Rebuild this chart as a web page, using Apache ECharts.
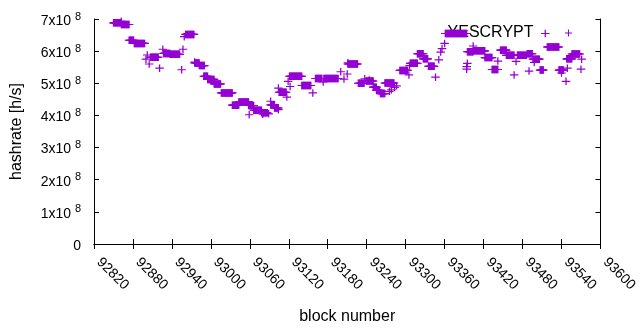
<!DOCTYPE html>
<html><head><meta charset="utf-8">
<script src="https://cdn.jsdelivr.net/npm/echarts@6/dist/echarts.min.js"></script>
<style>html,body{margin:0;padding:0;background:#fff}#c{width:640px;height:330px}</style>
</head><body><div id="c"></div>
<script>
// ---- data (hashrate in units of 10^8 h/s) ----
const seriesName = 'YESCRYPT';
const xTitle = 'block number';
const yTitle = 'hashrate [h/s]';
const xMin = 92820, xMax = 93600, xStep = 60;
const yMin = 0, yMax = 7, yStep = 1;
const yExponent = '8';

// runs of consecutive blocks sharing the same hashrate estimate
const runStart = [92850,92862,92874,92882,92907,92927,92937,92961,92975,92982,92989,92995,93005,93016,93033,93043,93058,93066,93078,93092,93098,93105,93121,93140,93161,93174,93211,93227,93239,93250,93255,93261,93268,93291,93307,93318,93327,93335,93361,93395,93404,93422,93433,93446,93455,93472,93487,93496,93507,93518,93536,93548,93556];
const runEnd   = [92861,92874,92881,92898,92919,92937,92952,92974,92982,92990,92995,93005,93015,93033,93043,93058,93066,93078,93087,93098,93104,93116,93140,93154,93171,93196,93226,93236,93250,93255,93260,93268,93282,93303,93318,93327,93334,93344,93394,93404,93422,93433,93442,93455,93467,93486,93495,93506,93512,93536,93543,93556,93568];
const runHashrate = [6.88,6.83,6.34,6.24,5.81,5.93,5.90,6.52,5.63,5.55,5.22,5.12,4.98,4.70,4.32,4.42,4.31,4.16,4.08,4.33,4.23,4.72,5.22,4.93,5.15,5.15,5.60,5.00,5.07,4.88,4.78,4.68,5.01,5.40,5.62,5.92,5.76,5.53,6.55,5.98,6.01,5.80,5.43,6.03,5.87,5.87,5.92,5.75,5.41,6.13,5.41,5.76,5.91];

// isolated blocks
const singleBlock = [92862,92900,92902,92905,92921,92926,92955,92957,92959,92975,93059,93080,93089,93092,93104,93104,93117,93119,93122,93157,93173,93200,93205,93210,93211,93237,93244,93275,93278,93283,93286,93305,93306,93346,93351,93354,93356,93360,93394,93395,93394,93404,93442,93467,93470,93490,93498,93515,93540,93547,93549,93570,93571];
const singleHashrate = [6.93,5.75,5.88,5.60,5.47,6.06,5.42,6.06,6.45,5.66,4.02,4.04,4.05,4.44,4.18,4.85,4.57,5.06,4.90,4.70,5.04,5.36,5.13,5.29,5.64,5.14,5.10,4.75,4.80,4.87,4.92,5.26,5.55,5.19,5.73,5.97,6.08,6.24,5.52,5.62,5.44,6.16,5.69,5.26,5.68,5.38,5.65,6.55,5.32,5.06,5.47,5.44,5.75];

// ---- build point list ----
const points = [];
for (let i = 0; i < runStart.length; i++) {
  for (let b = runStart[i]; b <= runEnd[i]; b++) points.push([b, runHashrate[i]]);
}
for (let i = 0; i < singleBlock.length; i++) points.push([singleBlock[i], singleHashrate[i]]);

const FONT = 'Liberation Sans, Arial, sans-serif';
const PURPLE = '#9400D3';
const PLUS = 'path://M0,3.4H8V4.6H0Z M3.4,0H4.6V8H3.4Z';

const axisCommon = {
  axisLine: { show: true, lineStyle: { color: '#000', width: 1 } },
  axisTick: { show: true, inside: true, length: 5, lineStyle: { color: '#000', width: 1 } },
  splitLine: { show: false }
};

const chart = echarts.init(document.getElementById('c'), null, { renderer: 'canvas' });
chart.setOption({
  animation: false,
  backgroundColor: '#fff',
  textStyle: { fontFamily: FONT },
  grid: { left: 94, right: 31, top: 19, bottom: 85, containLabel: false },
  legend: {
    data: [seriesName],
    right: 68, top: 25,
    padding: 0,
    align: 'right',
    itemWidth: 8, itemHeight: 7,
    icon: PLUS,
    textStyle: { fontSize: 16, color: '#000', fontFamily: FONT, padding: [0, 26, 0, 0] },
    selectedMode: false
  },
  xAxis: [
    Object.assign({
      type: 'value', min: xMin, max: xMax, interval: xStep, position: 'bottom',
      name: xTitle, nameLocation: 'middle', nameGap: 65,
      nameTextStyle: { fontSize: 16, color: '#000', fontFamily: FONT },
      axisLabel: { rotate: -45, fontSize: 14, color: '#000', fontFamily: FONT, margin: 11,
        padding: [0, 0, 0, 7], formatter: v => String(v) }
    }, axisCommon),
    Object.assign({
      type: 'value', min: xMin, max: xMax, interval: xStep, position: 'top',
      axisLabel: { show: false }
    }, axisCommon)
  ],
  yAxis: [
    Object.assign({
      type: 'value', min: yMin, max: yMax, interval: yStep, position: 'left',
      name: yTitle, nameLocation: 'middle', nameGap: 69,
      nameTextStyle: { fontSize: 16, color: '#000', fontFamily: FONT },
      axisLabel: {
        fontSize: 14, color: '#000', fontFamily: FONT, margin: 13,
        formatter: v => v === 0 ? '{b|0}' : '{b|' + v + 'x10 }{s|' + yExponent + '}',
        rich: {
          b: { fontSize: 14, color: '#000', fontFamily: FONT, padding: [4, 0, 0, 0] },
          s: { fontSize: 11, color: '#000', fontFamily: FONT, padding: [0, 0, 5, 0] }
        }
      }
    }, axisCommon),
    Object.assign({
      type: 'value', min: yMin, max: yMax, interval: yStep, position: 'right',
      axisLabel: { show: false }
    }, axisCommon)
  ],
  series: [{
    name: seriesName,
    type: 'scatter',
    xAxisIndex: 0, yAxisIndex: 0,
    symbol: PLUS,
    symbolSize: [8.5, 7.5],
    itemStyle: { color: PURPLE, opacity: 1 },
    emphasis: { disabled: true },
    data: points,
    z: 5
  }]
});
</script>
</body></html>
